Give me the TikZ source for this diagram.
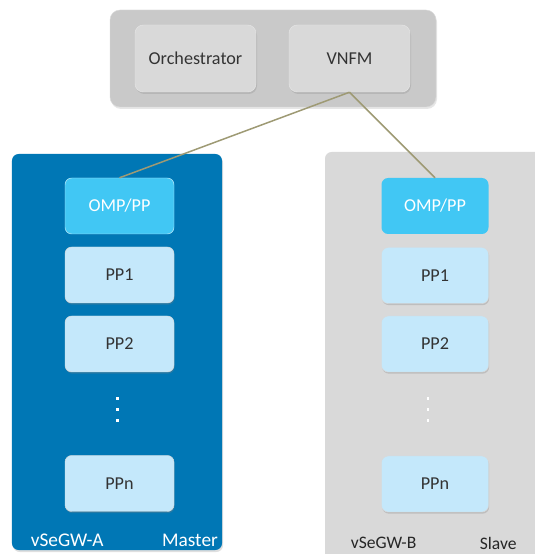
\documentclass[tikz,border=0pt]{standalone}
\usepackage{fontspec}
\setmainfont{Carlito}
\usepackage{xcolor}
\usepackage{tikz}
\usetikzlibrary{shapes,positioning,shadows}

\definecolor{mgmtgray}{HTML}{C9C9C9}
\definecolor{boxgray}{HTML}{D9D9D9}
\definecolor{masterblue}{HTML}{0077B5}
\definecolor{ompcyan}{HTML}{41C7F4}
\definecolor{pplight}{HTML}{C4E8FB}
\definecolor{linkolive}{HTML}{9E9A74}

\begin{document}
\begin{tikzpicture}[
    mgmt/.style={rectangle, rounded corners=0.25cm, fill=boxgray, draw=white!90!black, minimum width=3.63cm, minimum height=2.01cm, font=\fontsize{15.5}{18}\selectfont, text=black!80, drop shadow={opacity=0.25, shadow xshift=0.03cm, shadow yshift=-0.06cm}},
    ompbox/.style={rectangle, rounded corners=0.2cm, fill=ompcyan, minimum height=1.68cm, font=\fontsize{15.5}{18}\selectfont, text=white},
    ppbox/.style={rectangle, rounded corners=0.2cm, fill=pplight, draw=black!15, minimum height=1.68cm, font=\fontsize{15.5}{18}\selectfont, text=black!80, drop shadow={opacity=0.3, shadow xshift=0.02cm, shadow yshift=-0.05cm}},
    gwlabel/.style={font=\fontsize{16.5}{19}\selectfont},
    link/.style={linkolive, line width=0.045cm}
]
\useasboundingbox (0,0) rectangle (16.05,16.62);

% Management layer
\node[rectangle, rounded corners=0.3cm, fill=mgmtgray, draw=white!85!black, minimum width=9.78cm, minimum height=2.91cm, drop shadow={opacity=0.2, shadow xshift=0.03cm, shadow yshift=-0.06cm}] (mgmt) at (8.19, 14.865) {};
\node[mgmt] (orch) at (5.865, 14.865) {Orchestrator};
\node[mgmt] (vnfm) at (10.485, 14.865) {VNFM};

% vSeGW-A (master)
\node[rectangle, rounded corners=0.2cm, fill=masterblue, minimum width=6.3cm, minimum height=11.88cm, drop shadow={opacity=0.25, shadow xshift=0.03cm, shadow yshift=-0.06cm}] (gwa) at (3.51, 6.06) {};
\node[ompbox, draw=white!70!ompcyan, minimum width=3.27cm] (ompa) at (3.585, 10.44) {OMP/PP};
\node[ppbox, minimum width=3.27cm] (ppa1) at (3.585, 8.37) {PP1};
\node[ppbox, minimum width=3.27cm] (ppa2) at (3.585, 6.3) {PP2};
\node[ppbox, minimum width=3.27cm] (ppan) at (3.585, 2.115) {PPn};
\foreach \y in {4.62, 4.29, 3.96}
    \fill[white] (3.48, \y) rectangle ++(0.09, 0.09);
\node[gwlabel, text=white, anchor=west] (nama) at (0.8, 0.42) {vSeGW-A};
\node[gwlabel, text=white, anchor=east] (rolea) at (6.66, 0.42) {Master};

% vSeGW-B (slave)
\node[rectangle, rounded corners=0.2cm, fill=boxgray, minimum width=6.6cm, minimum height=12.3cm] (gwb) at (13.05, 5.91) {};
\node[ompbox, minimum width=3.21cm] (ompb) at (13.05, 10.44) {OMP/PP};
\node[ppbox, minimum width=3.21cm] (ppb1) at (13.05, 8.355) {PP1};
\node[ppbox, minimum width=3.21cm] (ppb2) at (13.05, 6.3) {PP2};
\node[ppbox, minimum width=3.21cm] (ppbn) at (13.05, 2.1) {PPn};
\foreach \y in {4.62, 4.29, 3.96}
    \fill[white] (12.8, \y) rectangle ++(0.08, 0.08);
\node[gwlabel, font=\fontsize{15}{18}\selectfont, text=black!85, anchor=west] (namb) at (10.4, 0.33) {vSeGW-B};
\node[gwlabel, font=\fontsize{15}{18}\selectfont, text=black!85, anchor=east] (roleb) at (15.62, 0.33) {Slave};

% Links from VNFM
\draw[link] (vnfm.south) -- (ompa.north);
\draw[link] (vnfm.south) -- (ompb.north);

\end{tikzpicture}
\end{document}
